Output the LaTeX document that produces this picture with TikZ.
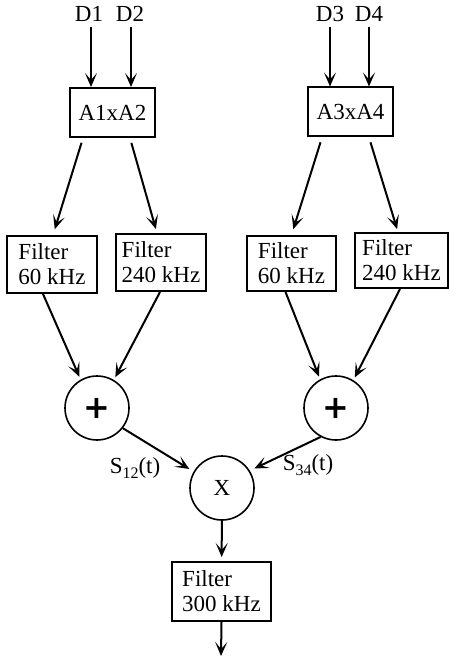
\documentclass[tikz,border=0pt]{standalone}
\usepackage{fontspec}
\setmainfont{Liberation Serif}
\newfontfamily\plusfont{DejaVu Sans}
\usetikzlibrary{arrows.meta}
\newcommand{\sig}[1]{S\raisebox{-5pt}{\fontsize{16}{16}\selectfont #1}(t)}
\begin{document}
\begin{tikzpicture}[x=1pt,y=-1pt,line width=2pt,
	>={Stealth[length=14pt,width=12pt,inset=7pt]},
	font=\fontsize{23}{25}\selectfont,
	blk/.style={draw,minimum width=85pt,minimum height=49pt,inner sep=0pt},
	filt/.style={draw,align=left,minimum width=90pt,minimum height=57pt,inner sep=6pt},
	circ/.style={draw,circle,line width=1.6pt,minimum size=64pt,inner sep=0pt},
	lbl/.style={inner sep=0pt}]
	\useasboundingbox (0,0) rectangle (449,660);
	% inputs
	\node[lbl] (d1) at (89,14) {D1};
	\node[lbl] (d2) at (130,14) {D2};
	\node[lbl] (d3) at (330,14) {D3};
	\node[lbl] (d4) at (369,14) {D4};
	\node[blk] (a12) at (112.5,112.5) {A1xA2};
	\node[blk] (a34) at (350.5,112) {A3xA4};
	\draw[->] ([xshift=2pt,yshift=-4pt]d1.south) -- ([xshift=-21.5pt]a12.north);
	\draw[->] ([xshift=1pt,yshift=-4pt]d2.south) -- ([xshift=18.5pt]a12.north);
	\draw[->] ([yshift=-4pt]d3.south) -- ([xshift=-20.5pt]a34.north);
	\draw[->] ([yshift=-4pt]d4.south) -- ([xshift=18.5pt]a34.north);
	% filters
	\node[filt] (f1) at (52,264.5) {Filter\\60 kHz};
	\node[filt] (f2) at (161,262.5) {Filter\\240 kHz};
	\node[filt,minimum width=89pt,minimum height=55pt] (f3) at (291.5,263.5) {Filter\\60 kHz};
	\node[filt,minimum width=93pt,minimum height=55pt] (f4) at (401.5,260.5) {Filter\\240 kHz};
	\draw[->,shorten <=5pt,shorten >=6pt] ([xshift=-29.5pt]a12.south) -- ([xshift=1pt]f1.north);
	\draw[->,shorten <=5pt,shorten >=4pt] ([xshift=17.5pt]a12.south) -- ([xshift=-4pt]f2.north);
	\draw[->,shorten <=5pt,shorten >=6pt] ([xshift=-28.5pt]a34.south) -- (f3.north);
	\draw[->,shorten <=5pt,shorten >=3pt] ([xshift=18.5pt]a34.south) -- ([xshift=-3.5pt]f4.north);
	% adders and mixer
	\node[circ] (s1) at (97,408) {\plusfont\bfseries\fontsize{32}{32}\selectfont +};
	\node[circ] (s2) at (336,408) {\plusfont\bfseries\fontsize{32}{32}\selectfont +};
	\node[circ] (m) at (222,488) {X};
	\draw[->,shorten >=3pt] ([xshift=-9pt]f1.south) -- (s1.120);
	\draw[->,shorten >=3pt] ([xshift=-1pt]f2.south) -- (s1.59);
	\draw[->,shorten >=3pt] ([xshift=-6pt]f3.south) -- (s2.119);
	\draw[->,shorten >=3pt] ([xshift=-1.5pt]f4.south) -- (s2.58);
	\draw[->,shorten >=5pt] (s1.-38) -- (m.150);
	\draw[->,shorten >=5pt] (s2.-118) -- (m.32);
	\node[lbl] (s12) at (135,468) {\sig{12}};
	\node[lbl] (s34) at (308,465) {\sig{34}};
	% output filter
	\node[filt,minimum width=99pt,minimum height=59pt] (f5) at (221.5,591.5) {Filter\\300 kHz};
	\coordinate (out) at (221,656);
	\draw[->,shorten >=4pt] (m) -- (f5);
	\draw[->] (f5.south) -- (out);
\end{tikzpicture}
\end{document}
